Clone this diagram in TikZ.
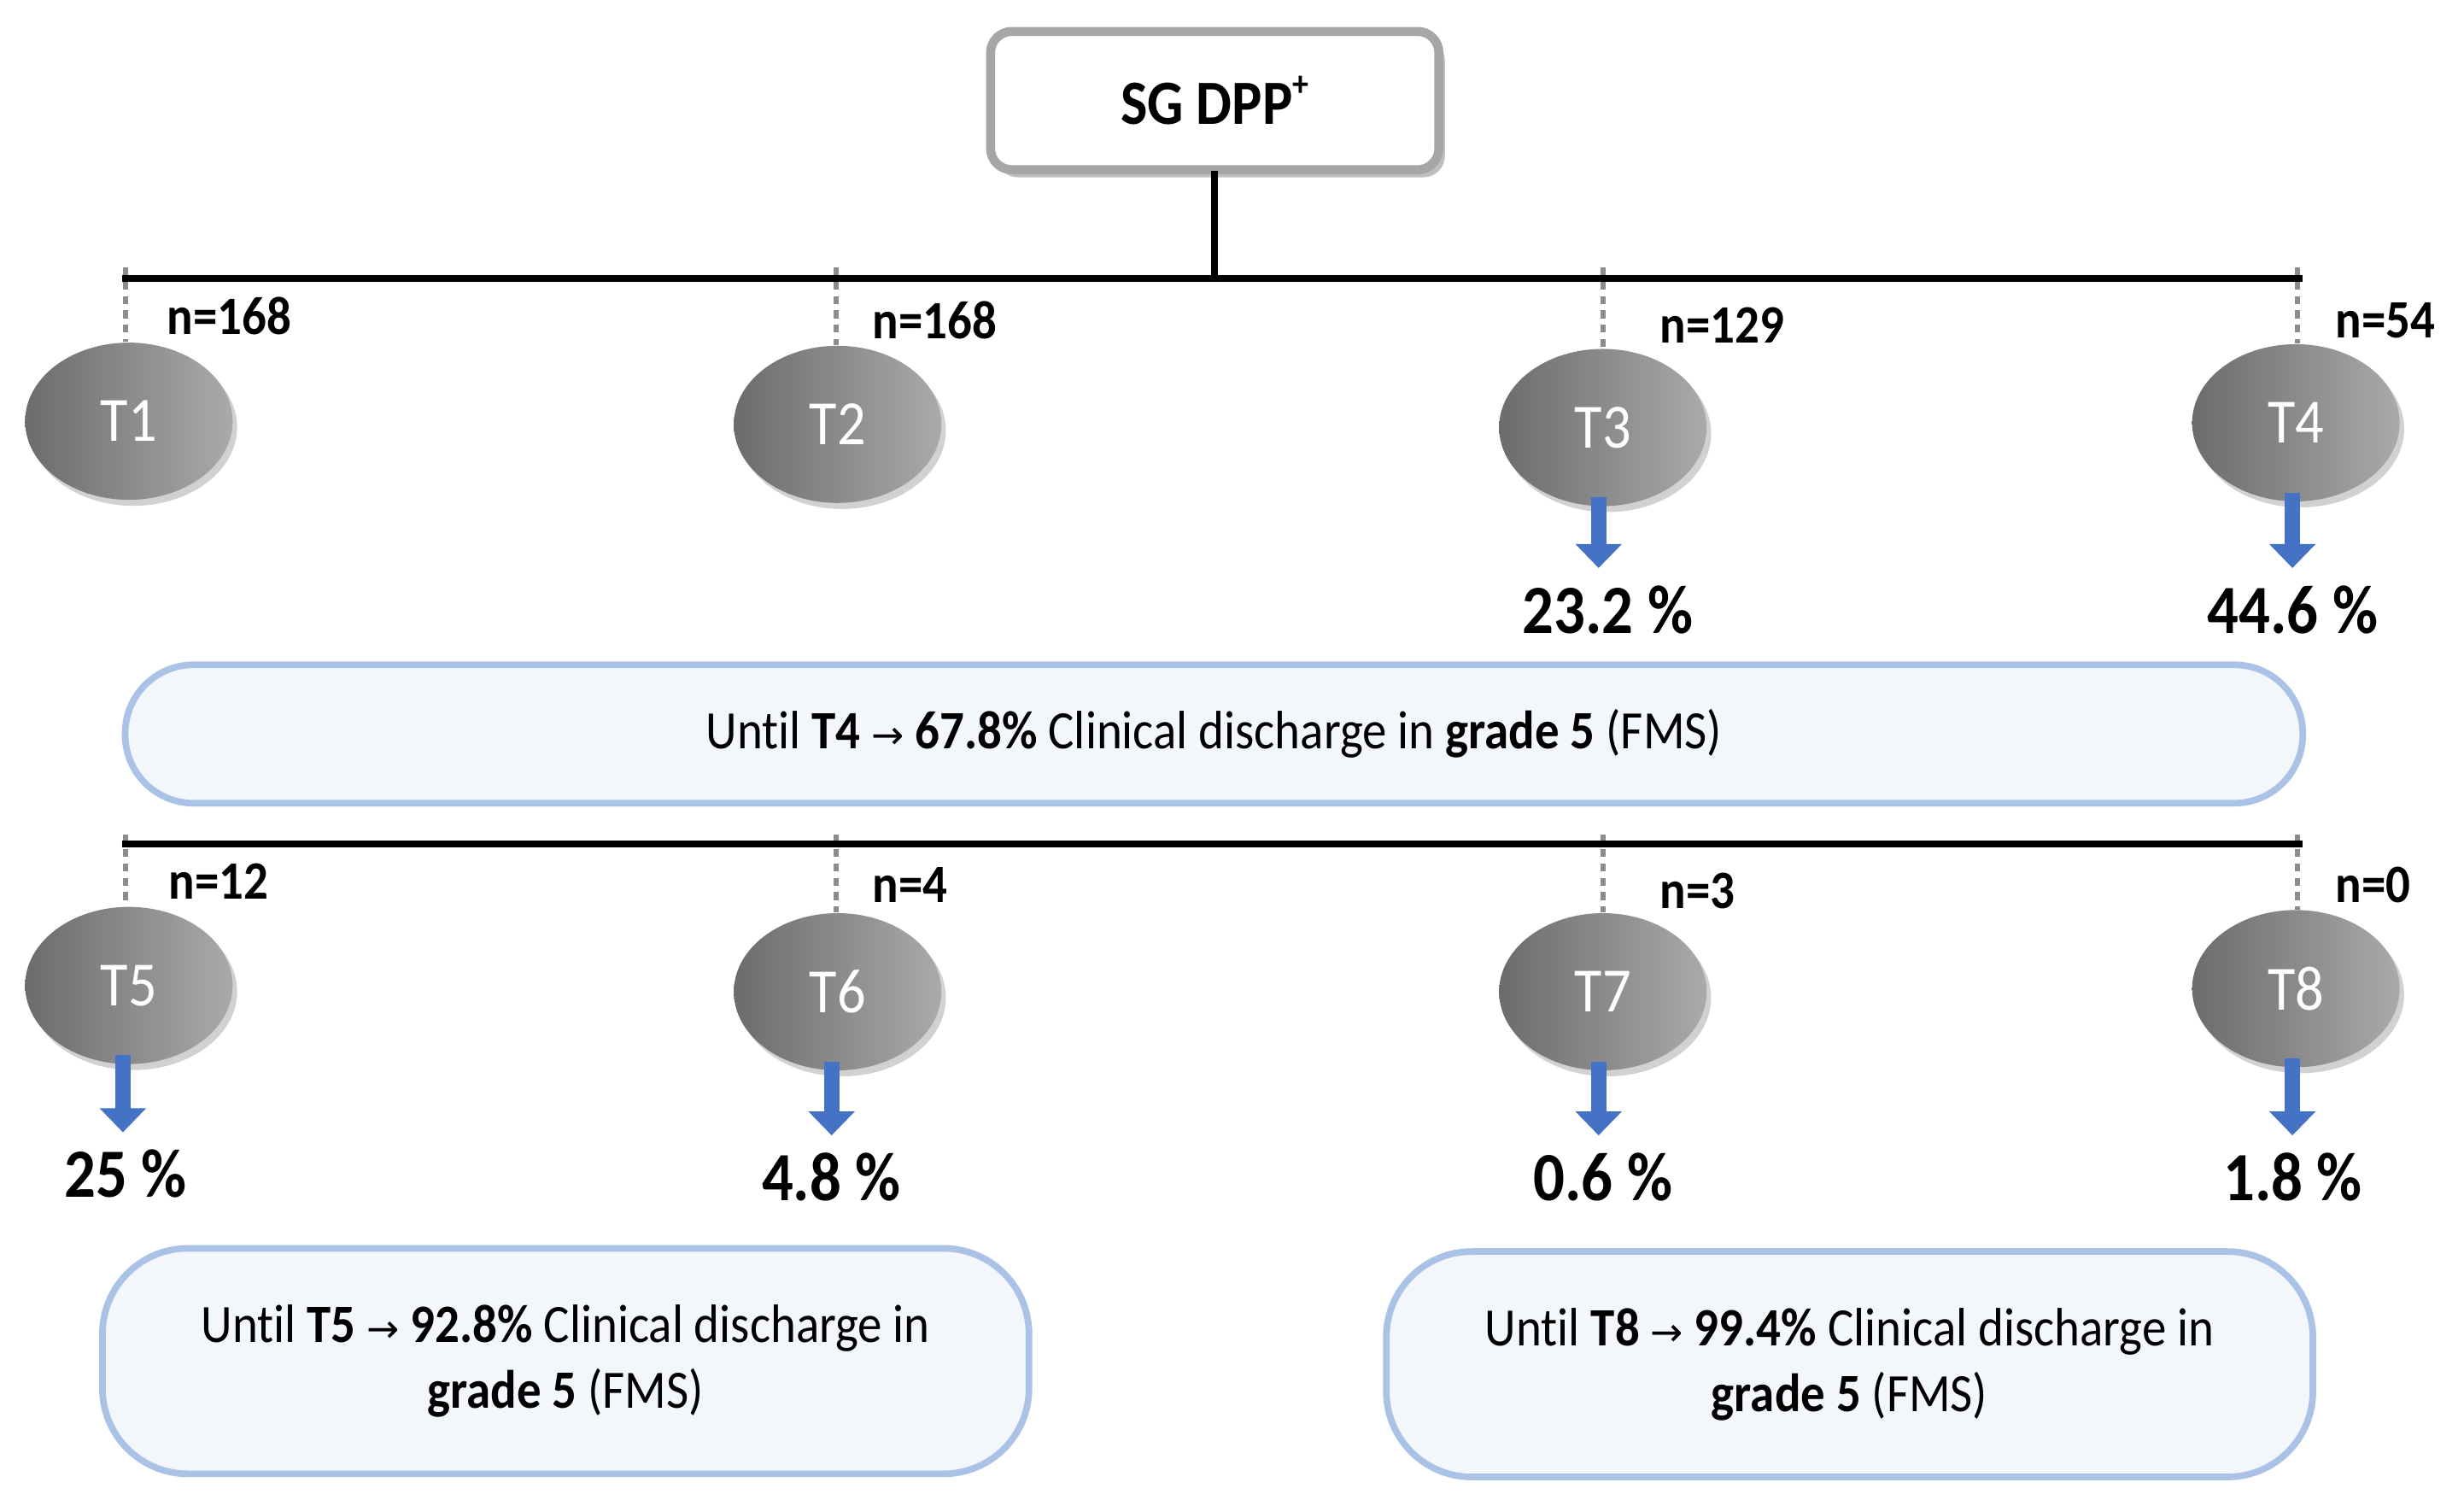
\documentclass[tikz,border=0pt]{standalone}
\usepackage{fontspec}
\setmainfont{Carlito}[FakeStretch=0.9, Ligatures=NoCommon]
\newfontfamily\arrowfont{DejaVu Sans}
\usetikzlibrary{shadows,arrows.meta,shapes.geometric}
\definecolor{boxgray}{HTML}{A6A6A6}
\definecolor{ellL}{HTML}{6C6C6C}
\definecolor{ellR}{HTML}{ABA9A9}
\definecolor{arrblue}{HTML}{4472C4}
\definecolor{panelline}{HTML}{A9C2E6}
\definecolor{panelfill}{HTML}{F3F6FB}
\definecolor{dashgray}{HTML}{8C8C8C}
\newcommand\myarrow{{\arrowfont\fontsize{13}{13}\selectfont →}}
\begin{document}
\begin{tikzpicture}[x=0.0184cm,y=-0.0184cm,
  topbox/.style={draw=boxgray, line width=3pt, fill=white, rounded corners=0.25cm,
    minimum width=5.25cm, minimum height=1.62cm,
    drop shadow={shadow xshift=2pt, shadow yshift=-2.5pt, opacity=0.25, fill=black},
    font=\fontsize{21}{21}\selectfont\bfseries},
  tnode/.style={ellipse, minimum width=2.43cm, minimum height=1.84cm, inner sep=0pt,
    left color=ellL, right color=ellR, draw=none, text=white,
    drop shadow={shadow xshift=1.5pt, shadow yshift=-2pt, opacity=0.18, fill=black},
    font=\fontsize{21}{21}\selectfont},
  nlab/.style={anchor=west, inner sep=0pt, font=\fontsize{18}{18}\selectfont\bfseries},
  pct/.style={inner sep=0pt, font=\fontsize{23}{23}\selectfont\bfseries},
  bar/.style={line width=2.3pt, line cap=rect},
  dashline/.style={draw=dashgray, line width=1.6pt, dash pattern=on 2.6pt off 2.2pt},
  bluearrow/.style={draw=arrblue, line width=5.2pt, -{Triangle[width=15pt, length=8pt]}, shorten >=0.2cm},
  panel/.style={draw=panelline, fill=panelfill, line width=2.2pt, align=center,
    font=\fontsize{18}{22}\selectfont}
]
\useasboundingbox (0,0) rectangle (1568,954);

% top box
\node[topbox] (top) at (773,64) {SG DPP\raisebox{0.45em}{\fontsize{12}{12}\selectfont +}};

% first level
\coordinate (b1L) at (80,177);
\coordinate (b1R) at (1463,177);
\draw[bar] (top.south) -- (top.south |- b1L);

\node[tnode] (T1) at (82,268) {T1};
\node[tnode] (T2) at (533,270) {T2};
\node[tnode] (T3) at (1020,272) {T3};
\node[tnode] (T4) at (1461,269) {T4};

\foreach \t/\x in {T1/80,T2/532,T3/1020,T4/1462}
  \draw[dashline] (\x,170) -- (\t.north -| \x,0);
\draw[bar] (b1L) -- (b1R);

\node[nlab] (n1) at (106,201) {n=168};
\node[nlab] (n2) at (555,204) {n=168};
\node[nlab] (n3) at (1056,207) {n=129};
\node[nlab] (n4) at (1486,204) {n=54};

\node[pct] (p3) at (1023,388) {23.2 \%};
\node[pct] (p4) at (1459,388) {44.6 \%};
\draw[bluearrow] ([xshift=-0.05cm]T3.south) ++(0,-6) -- ([xshift=-0.05cm]T3.south |- p3.north);
\draw[bluearrow] ([xshift=-0.04cm]T4.south) ++(0,-6) -- ([xshift=-0.04cm]T4.south |- p4.north);

\node[panel, rounded corners=0.8cm, minimum width=25.5cm, minimum height=1.62cm] (s1) at (772.5,467)
  {Until \textbf{T4} \myarrow{} \textbf{67.8\%} Clinical discharge in \textbf{grade 5} (FMS)};

% second level
\coordinate (b2L) at (80,537);
\coordinate (b2R) at (1463,537);

\node[tnode] (T5) at (82,627) {T5};
\node[tnode] (T6) at (533,631) {T6};
\node[tnode] (T7) at (1020,631) {T7};
\node[tnode] (T8) at (1461,629) {T8};

\foreach \t/\x in {T5/80,T6/532,T7/1020,T8/1462}
  \draw[dashline] (\x,531) -- (\t.north -| \x,0);
\draw[bar] (b2L) -- (b2R);

\node[nlab] (n5) at (107,561) {n=12};
\node[nlab] (n6) at (555,563) {n=4};
\node[nlab] (n7) at (1056,567) {n=3};
\node[nlab] (n8) at (1486,563) {n=0};

\node[pct] (p5) at (80,747) {25 \%};
\node[pct] (p6) at (529,749) {4.8 \%};
\node[pct] (p7) at (1020,749) {0.6 \%};
\node[pct] (p8) at (1459,749) {1.8 \%};
\draw[bluearrow] ([xshift=-0.07cm]T5.south) ++(0,-6) -- ([xshift=-0.07cm]T5.south |- p5.north);
\draw[bluearrow] ([xshift=-0.07cm]T6.south) ++(0,-6) -- ([xshift=-0.07cm]T6.south |- p6.north);
\draw[bluearrow] ([xshift=-0.05cm]T7.south) ++(0,-6) -- ([xshift=-0.05cm]T7.south |- p7.north);
\draw[bluearrow] ([xshift=-0.04cm]T8.south) ++(0,-6) -- ([xshift=-0.04cm]T8.south |- p8.north);

\node[panel, rounded corners=1.0cm, minimum width=10.85cm, minimum height=2.64cm] (s2) at (360,866)
  {Until \textbf{T5} \myarrow{} \textbf{92.8\%} Clinical discharge in\\ \textbf{grade 5} (FMS)};
\node[panel, rounded corners=1.0cm, minimum width=10.85cm, minimum height=2.64cm] (s3) at (1177,868)
  {Until \textbf{T8} \myarrow{} \textbf{99.4\%} Clinical discharge in\\ \textbf{grade 5} (FMS)};
\end{tikzpicture}
\end{document}
